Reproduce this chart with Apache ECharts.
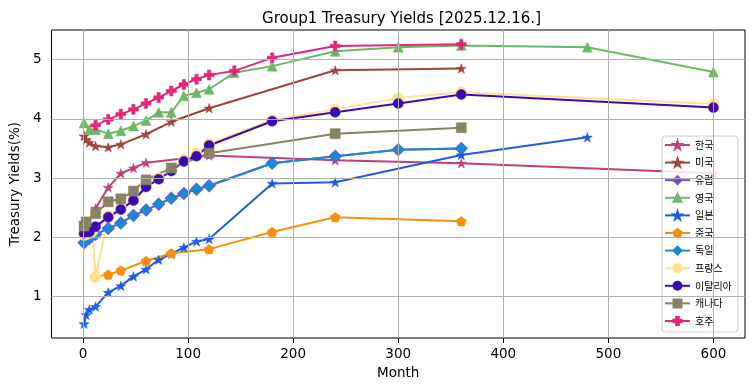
<!DOCTYPE html>
<html>
<head>
<meta charset="utf-8">
<script src="https://cdn.jsdelivr.net/npm/echarts@6/dist/echarts.min.js"></script>
<style>html,body{margin:0;padding:0;background:#fff}#c{width:755px;height:391px}</style>
</head>
<body>
<div id="c"></div>
<script>
// ---- data (month, yield %) ----
const korea     = [[12,2.49],[24,2.84],[36,3.08],[48,3.17],[60,3.26],[120,3.38],[240,3.30],[360,3.25],[600,3.08]];
const usa       = [[1,3.71],[3,3.65],[6,3.60],[12,3.54],[24,3.52],[36,3.57],[60,3.74],[84,3.95],[120,4.18],[240,4.82],[360,4.85]];
const europe    = [[1,1.91],[6,1.98],[12,2.05],[24,2.15],[36,2.24],[48,2.37],[60,2.46],[72,2.56],[84,2.66],[96,2.74],[108,2.81],[120,2.87],[180,3.25],[240,3.37],[300,3.48],[360,3.50]];
const uk        = [[1,3.93],[6,3.82],[12,3.82],[24,3.75],[36,3.80],[48,3.88],[60,3.97],[72,4.11],[84,4.11],[96,4.39],[108,4.44],[120,4.50],[144,4.78],[180,4.89],[240,5.14],[300,5.21],[360,5.24],[480,5.21],[600,4.79]];
const japan     = [[1,0.54],[3,0.69],[6,0.78],[12,0.83],[24,1.07],[36,1.18],[48,1.34],[60,1.46],[72,1.62],[84,1.72],[96,1.83],[108,1.93],[120,1.97],[180,2.91],[240,2.93],[360,3.39],[480,3.69]];
const china     = [[12,1.34],[24,1.37],[36,1.44],[60,1.60],[84,1.73],[120,1.80],[180,2.09],[240,2.34],[360,2.27]];
const germany   = [[1,1.91],[6,1.98],[12,2.05],[24,2.15],[36,2.24],[48,2.37],[60,2.46],[72,2.56],[84,2.66],[96,2.74],[108,2.81],[120,2.87],[180,3.25],[240,3.37],[300,3.48],[360,3.50]];
const france    = [[1,2.04],[3,2.05],[6,2.07],[9,2.10],[12,1.33],[24,2.36],[36,2.50],[48,2.65],[60,2.88],[72,3.00],[84,3.13],[96,3.31],[108,3.42],[120,3.58],[180,3.98],[240,4.16],[300,4.35],[360,4.45],[600,4.25]];
const italy     = [[1,2.07],[6,2.09],[12,2.18],[24,2.34],[36,2.47],[48,2.62],[60,2.85],[72,2.98],[84,3.12],[96,3.28],[108,3.37],[120,3.55],[180,3.96],[240,4.11],[300,4.26],[360,4.41],[600,4.19]];
const canada    = [[1,2.19],[3,2.26],[12,2.40],[24,2.60],[36,2.65],[48,2.78],[60,2.97],[84,3.17],[120,3.42],[240,3.75],[360,3.85]];
const australia = [[12,3.89],[24,3.99],[36,4.08],[48,4.16],[60,4.26],[72,4.36],[84,4.47],[96,4.58],[108,4.67],[120,4.74],[144,4.81],[180,5.03],[240,5.23],[360,5.26]];

const names  = ['한국','미국','유럽','영국','일본','중국','독일','프랑스','이탈리아','캐나다','호주'];
const xTicks = [0,100,200,300,400,500,600];
const yTicks = [1,2,3,4,5];
const titleText = 'Group1 Treasury Yields [2025.12.16.]';

// ---- styling ----
const X_MIN=-30, X_MAX=630, Y_MIN=0.30, Y_MAX=5.50;
const STAR='path://M0,-100L22.45,-30.9L95.1,-30.9L36.33,11.8L58.8,80.9L0,38.2L-58.8,80.9L-36.33,11.8L-95.1,-30.9L-22.45,-30.9Z';
const PLUS='path://M-1,-3L1,-3L1,-1L3,-1L3,1L1,1L1,3L-1,3L-1,1L-3,1L-3,-1L-1,-1Z';
const PENT='path://M0,-100L95.1,-30.9L58.8,80.9L-58.8,80.9L-95.1,-30.9Z';
const dataSets=[korea,usa,europe,uk,japan,china,germany,france,italy,canada,australia];
const styles=[
 {c:'#c0407a',s:STAR,z:10},
 {c:'#9c4538',s:STAR,z:10},
 {c:'#7a4ccc',s:'diamond',z:13},
 {c:'#6cb866',s:'triangle',z:10},
 {c:'#1b5ce0',s:STAR,z:10},
 {c:'#f5900f',s:PENT,z:10},
 {c:'#1a8ad0',s:'diamond',z:11},
 {c:'#ffe08c',s:'circle',z:11},
 {c:'#3a0bb2',s:'circle',z:10},
 {c:'#878363',s:'rect',z:10},
 {c:'#e0287a',s:PLUS,z:10}
];

const series=[];
const gl=[];
xTicks.forEach(x=>gl.push([{coord:[x,Y_MIN]},{coord:[x,Y_MAX]}]));
yTicks.forEach(y=>gl.push([{coord:[X_MIN,y]},{coord:[X_MAX,y]}]));
series.push({type:'line',data:[],z:1,silent:true,
  markLine:{silent:true,symbol:['none','none'],label:{show:false},animation:false,
    lineStyle:{color:'#b0b0b0',width:1,type:'solid'},emphasis:{disabled:true},data:gl}});
names.forEach((n,i)=>{
  const st=styles[i];
  series.push({type:'line',name:n,data:dataSets[i],symbol:st.s,symbolSize:st.z,
    symbolKeepAspect:true,
    itemStyle:{color:st.c,borderColor:st.c,borderWidth:0.5},
    lineStyle:{color:st.c,width:2},
    emphasis:{disabled:true},animation:false,z:2});
});

const chart=echarts.init(document.getElementById('c'),null,{renderer:'canvas'});
chart.setOption({
  animation:false,
  backgroundColor:'#fff',
  title:{text:titleText,left:396.5,textAlign:'center',top:7,
    textStyle:{fontFamily:'DejaVu Sans',fontSize:15,fontWeight:'normal',color:'#000'}},
  grid:{left:48,top:30,width:697,height:308,show:true,borderColor:'#000',borderWidth:1,backgroundColor:'transparent',z:3},
  legend:{data:names,orient:'vertical',left:662,top:136,
    padding:[4,6,6,2],itemGap:7.6,itemWidth:25,itemHeight:10,
    backgroundColor:'rgba(255,255,255,0.85)',borderColor:'#cccccc',borderWidth:1,borderRadius:3,
    textStyle:{fontFamily:'Noto Sans CJK KR',fontSize:10,color:'#000',lineHeight:10},
    selectedMode:false},
  xAxis:{type:'value',min:X_MIN,max:X_MAX,name:'Month',nameLocation:'middle',nameGap:28,
    nameTextStyle:{fontFamily:'DejaVu Sans',fontSize:13.5,color:'#000'},
    axisLine:{show:false},splitLine:{show:false},
    axisTick:{show:true,customValues:xTicks,length:5,lineStyle:{color:'#000'}},
    axisLabel:{customValues:xTicks,margin:9,fontFamily:'DejaVu Sans',fontSize:13.5,color:'#000'}},
  yAxis:{type:'value',min:Y_MIN,max:Y_MAX,name:'Treasury Yields(%)',nameLocation:'middle',nameGap:24,nameRotate:90,
    nameTextStyle:{fontFamily:'DejaVu Sans',fontSize:13.5,color:'#000'},
    axisLine:{show:false},splitLine:{show:false},
    axisTick:{show:true,customValues:yTicks,length:5,lineStyle:{color:'#000'}},
    axisLabel:{customValues:yTicks,margin:10,fontFamily:'DejaVu Sans',fontSize:13.5,color:'#000'}},
  series:series
});
</script>
</body>
</html>
